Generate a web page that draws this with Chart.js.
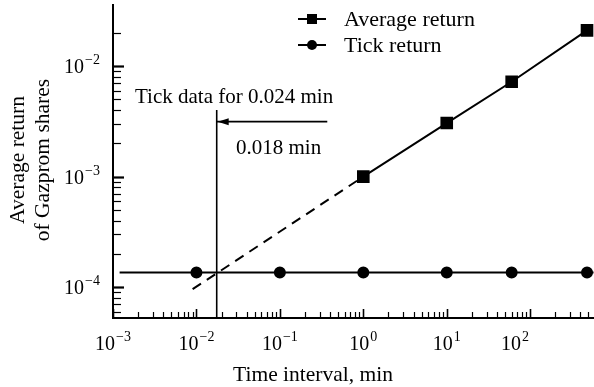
<!DOCTYPE html>
<html>
<head>
<meta charset="utf-8">
<script src="https://cdn.jsdelivr.net/npm/chart.js@4"></script>
<style>
  html, body { margin: 0; padding: 0; background: #fff; }
  #wrap { width: 594px; height: 387px; position: relative; }
</style>
</head>
<body>
<div id="wrap"><canvas id="c"></canvas></div>
<script>
// Average return vs. time interval (Gazprom), log-log
const avgX = [1, 10, 60, 480];
const avgY = [1.0e-3, 3.05e-3, 7.2e-3, 2.1e-2];
// dashed extrapolation of the average return down to the tick level
const extX = [0.009, 1];
const extY = [9.6e-5, 1.0e-3];
const tickX = [0.01, 0.1, 1, 10, 60, 480];
const tickY = [1.36e-4, 1.36e-4, 1.36e-4, 1.36e-4, 1.36e-4, 1.36e-4];
// the tick level line runs past the markers at both ends
const tickLineX = [0.0012, 575];
const tickLineY = [1.36e-4, 1.36e-4];
// crossing point (0.018 min) and the arrow from the label to it
const crossX = 0.0175;
const crossTopY = 4.0e-3;
const arrowX = [0.0175, 0.37];
const arrowY = [3.14e-3, 3.14e-3];
// axis ranges and tick labels
const xMin = 1e-3, xMax = 582;
const yMin = 5.27e-5, yMax = 3.56e-2;
const yTickTop = 2.5e-2; // minor ticks stop at 2·10^-2
const xLabelAt = [1e-3, 1e-2, 1e-1, 1, 10, 66];
const xLabelExp = ["\u22123", "\u22122", "\u22121", "0", "1", "2"];
const yLabelAt = [1e-4, 1e-3, 1e-2];
const yLabelExp = ["\u22124", "\u22123", "\u22122"];

const FONT = '"Liberation Serif", "Times New Roman", serif';
const pts = (xs, ys) => xs.map((v, i) => ({ x: v, y: ys[i] }));

function pow10(ctx, exp, px, base, align) {
  ctx.font = `20px ${FONT}`;
  const w1 = ctx.measureText("10").width;
  ctx.font = `14px ${FONT}`;
  const w2 = ctx.measureText(exp).width;
  const w = w1 + 1 + w2;
  const x0 = align === "right" ? px - w : px - w / 2;
  ctx.textAlign = "left";
  ctx.textBaseline = "alphabetic";
  ctx.font = `20px ${FONT}`;
  ctx.fillText("10", x0, base);
  ctx.font = `14px ${FONT}`;
  ctx.fillText(exp, x0 + w1 + 1, base - 9);
}

const decor = {
  id: "decor",
  afterDraw(chart) {
    const { ctx, chartArea: a, scales: { x, y } } = chart;
    ctx.save();
    ctx.strokeStyle = "#000";
    ctx.fillStyle = "#000";
    // inward tick marks, decades longer
    for (let d = -5; d <= 3; d++) {
      for (let m = 1; m <= 9; m++) {
        const v = m * Math.pow(10, d);
        if (v >= x.min && v <= x.max) {
          const px = Math.round(x.getPixelForValue(v)) + 0.5;
          ctx.lineWidth = m === 1 ? 1.6 : 1.2;
          ctx.beginPath(); ctx.moveTo(px, a.bottom); ctx.lineTo(px, a.bottom - (m === 1 ? 9 : 6)); ctx.stroke();
        }
        if (v >= y.min && v <= yTickTop) {
          const py = Math.round(y.getPixelForValue(v)) + 0.5;
          ctx.lineWidth = m === 1 ? 2.2 : 1.2;
          ctx.beginPath(); ctx.moveTo(a.left, py); ctx.lineTo(a.left + (m === 1 ? 11 : 8), py); ctx.stroke();
        }
      }
    }
    // tick labels
    xLabelAt.forEach((v, i) => pow10(ctx, xLabelExp[i], x.getPixelForValue(v), 350, "center"));
    yLabelAt.forEach((v, i) => pow10(ctx, yLabelExp[i], 100, y.getPixelForValue(v) + 7, "right"));
    // axis titles
    ctx.font = `21.5px ${FONT}`;
    ctx.textAlign = "center";
    ctx.textBaseline = "alphabetic";
    ctx.fillText("Time interval, min", 313, 381);
    ctx.save();
    ctx.translate(0, 160);
    ctx.rotate(-Math.PI / 2);
    ctx.textBaseline = "middle";
    ctx.fillText("Average return", 0, 18);
    ctx.fillText("of Gazprom shares", 0, 43);
    ctx.restore();
    // annotations
    ctx.font = `21px ${FONT}`;
    ctx.textAlign = "left";
    ctx.fillText("Tick data for 0.024 min", 135, 103);
    ctx.fillText("0.018 min", 236, 154);
    const ax = x.getPixelForValue(arrowX[0]), ay = y.getPixelForValue(arrowY[0]);
    ctx.beginPath();
    ctx.moveTo(ax + 1, ay); ctx.lineTo(ax + 12, ay - 3.5); ctx.lineTo(ax + 12, ay + 3.5); ctx.closePath();
    ctx.fill();
    // legend: line with marker through it
    const leg = [["Average return", "rect", 19], ["Tick return", "circle", 45]];
    leg.forEach(([txt, sty, ly]) => {
      ctx.lineWidth = 2;
      ctx.beginPath(); ctx.moveTo(298, ly); ctx.lineTo(326, ly); ctx.stroke();
      if (sty === "rect") ctx.fillRect(307, ly - 5, 10, 10);
      else { ctx.beginPath(); ctx.arc(312, ly, 5, 0, Math.PI * 2); ctx.fill(); }
      ctx.font = `22px ${FONT}`;
      ctx.textBaseline = "alphabetic";
      ctx.fillText(txt, 344, ly + 7);
    });
    ctx.restore();
  },
};

const line = (data, extra) => Object.assign({
  data, borderColor: "#000", backgroundColor: "#000", borderWidth: 2,
  pointRadius: 0, showLine: true, tension: 0, clip: false,
}, extra);

new Chart(document.getElementById("c"), {
  type: "scatter",
  data: {
    datasets: [
      line(pts(tickLineX, tickLineY)),
      line(pts(tickX, tickY), { label: "Tick return", showLine: false, pointStyle: "circle", pointRadius: 5 }),
      line(pts(extX, extY), { borderDash: [10, 7] }),
      line(pts(avgX, avgY), { label: "Average return", pointStyle: "rect", pointRadius: 7.5 }),
      line([{ x: crossX, y: yMin }, { x: crossX, y: crossTopY }], { borderWidth: 1.6 }),
      line(pts(arrowX, arrowY), { borderWidth: 1.6 }),
    ],
  },
  options: {
    responsive: true, maintainAspectRatio: false, animation: false,
    layout: { autoPadding: false, padding: { left: 113, right: 0, top: 5, bottom: 69 } },
    plugins: { legend: { display: false }, tooltip: { enabled: false } },
    scales: {
      x: {
        type: "logarithmic", min: xMin, max: xMax,
        grid: { display: false, drawTicks: false },
        border: { display: true, color: "#000", width: 2 },
        ticks: { display: false },
      },
      y: {
        type: "logarithmic", min: yMin, max: yMax,
        grid: { display: false, drawTicks: false },
        border: { display: true, color: "#000", width: 2 },
        ticks: { display: false },
      },
    },
  },
  plugins: [decor],
});
</script>
</body>
</html>
